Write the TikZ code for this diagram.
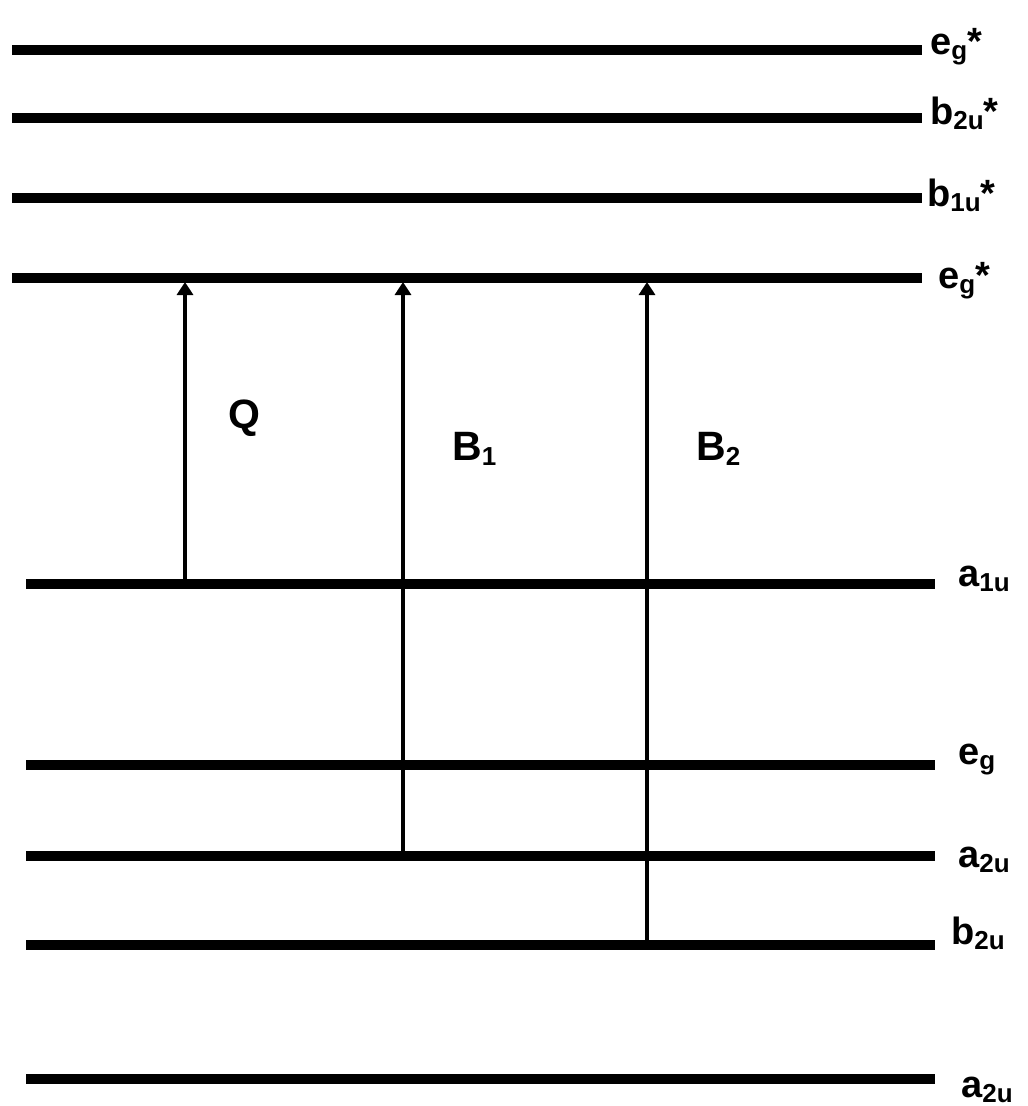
\documentclass[tikz,border=0pt]{standalone}
\usepackage{fontspec}
\setmainfont{Liberation Sans}
\usetikzlibrary{arrows.meta}
\newcommand{\sbs}[1]{\raisebox{-5pt}{\fontsize{26}{26}\selectfont #1}}
\begin{document}
\begin{tikzpicture}[x=1pt,y=-1pt,
  level/.style={line width=10pt},
  trans/.style={line width=3.3pt,-{Triangle[width=16pt,length=13pt]}},
  lab/.style={anchor=base west,inner sep=0pt,font=\fontsize{38}{40}\selectfont\bfseries},
  tlab/.style={anchor=base west,inner sep=0pt,font=\fontsize{41}{44}\selectfont\bfseries}]
\useasboundingbox (0,0) rectangle (1028,1106);
% upper levels
\coordinate (u1a) at (12,50);  \coordinate (u1b) at (922,50);
\coordinate (u2a) at (12,118); \coordinate (u2b) at (922,118);
\coordinate (u3a) at (12,198); \coordinate (u3b) at (922,198);
\coordinate (u4a) at (12,278); \coordinate (u4b) at (922,278);
% lower levels
\coordinate (d1a) at (26,584);  \coordinate (d1b) at (935,584);
\coordinate (d2a) at (26,765);  \coordinate (d2b) at (935,765);
\coordinate (d3a) at (26,856);  \coordinate (d3b) at (935,856);
\coordinate (d4a) at (26,945);  \coordinate (d4b) at (935,945);
\coordinate (d5a) at (26,1079); \coordinate (d5b) at (935,1079);
\foreach \l in {u1,u2,u3,u4,d1,d2,d3,d4,d5}{\draw[level] (\l a) -- (\l b);}
% labels
\node[lab] (lu1) at (930,54)  {e\sbs{g}*};
\node[lab] (lu2) at (930,124) {b\sbs{2u}*};
\node[lab] (lu3) at (927,206) {b\sbs{1u}*};
\node[lab] (lu4) at (938,288) {e\sbs{g}*};
\node[lab] (ld1) at (958,586)  {a\sbs{1u}};
\node[lab] (ld2) at (958,764)  {e\sbs{g}};
\node[lab] (ld3) at (958,867)  {a\sbs{2u}};
\node[lab] (ld4) at (951,944)  {b\sbs{2u}};
\node[lab] (ld5) at (961,1097) {a\sbs{2u}};
% transitions
\coordinate (qs) at (185,584); \coordinate (qe) at (185,282);
\coordinate (b1s) at (403,856); \coordinate (b1e) at (403,282);
\coordinate (b2s) at (647,945); \coordinate (b2e) at (647,282);
\draw[trans] (qs) -- (qe);
\draw[trans] (b1s) -- (b1e);
\draw[trans] (b2s) -- (b2e);
\node[tlab] (tq) at (228,428) {Q};
\node[tlab] (tb1) at (452,460) {B\sbs{1}};
\node[tlab] (tb2) at (696,460) {B\sbs{2}};
\end{tikzpicture}
\end{document}
